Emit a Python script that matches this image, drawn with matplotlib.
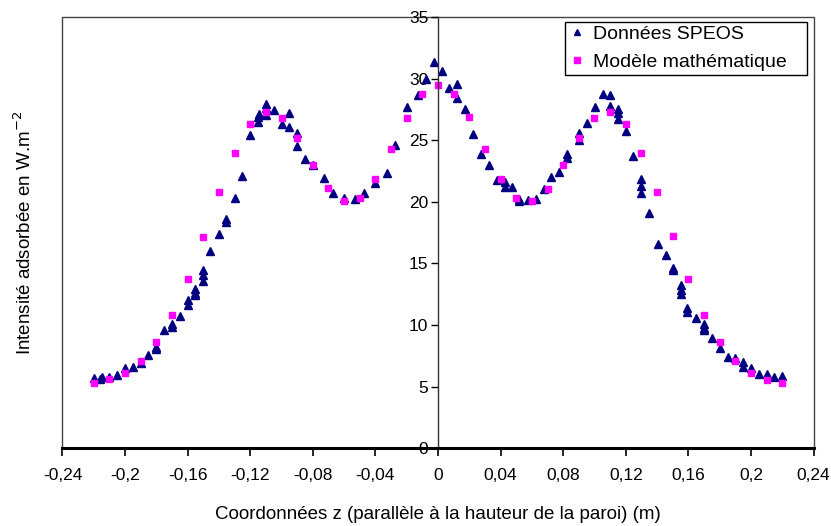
import matplotlib.pyplot as plt
from matplotlib.patches import Rectangle
from matplotlib.ticker import FuncFormatter, MultipleLocator

plt.rcParams['font.family'] = ['Liberation Sans', 'DejaVu Sans']

# Données SPEOS (triangles)
speos_z = [-0.22, -0.216, -0.215, -0.21, -0.205, -0.20, -0.195, -0.19, -0.1855,
           -0.18, -0.18, -0.175, -0.17, -0.17, -0.165, -0.16, -0.16, -0.155,
           -0.155, -0.155, -0.15, -0.15, -0.15, -0.1455, -0.14, -0.1355, -0.1355,
           -0.13, -0.125, -0.12, -0.115, -0.115, -0.1146, -0.11, -0.11, -0.11,
           -0.105, -0.10, -0.095, -0.095, -0.09, -0.09, -0.085, -0.08, -0.0728,
           -0.0673, -0.06, -0.053, -0.047, -0.04, -0.0328, -0.0273, -0.02, -0.013,
           -0.0077, -0.0026, 0.0024, 0.0072, 0.0123, 0.0123, 0.0173, 0.0222,
           0.0275, 0.0324, 0.0375, 0.0426, 0.0426, 0.0475, 0.052, 0.052, 0.0573,
           0.0626, 0.0675, 0.0724, 0.0775, 0.0826, 0.0826, 0.0899, 0.0899, 0.095,
           0.1001, 0.1052, 0.11, 0.11, 0.115, 0.115, 0.115, 0.12, 0.1248, 0.13,
           0.13, 0.13, 0.135, 0.1404, 0.1455, 0.15, 0.15, 0.155, 0.155, 0.155,
           0.1594, 0.1594, 0.165, 0.17, 0.17, 0.17, 0.175, 0.18, 0.1855, 0.19,
           0.195, 0.195, 0.20, 0.205, 0.21, 0.215, 0.22]
speos_i = [5.66, 5.58, 5.74, 5.74, 5.9, 6.47, 6.6, 6.88, 7.6,
           8.04, 8.23, 9.58, 9.85, 10.07, 10.72, 11.6, 12.0, 12.4,
           12.6, 12.9, 13.6, 14.05, 14.5, 16.0, 17.35, 18.4, 18.57,
           20.3, 22.1, 25.4, 26.5, 26.9, 27.1, 27.04, 27.58, 27.9,
           27.45, 26.3, 27.23, 26.04, 25.55, 24.55, 23.5, 22.98, 21.9,
           20.68, 20.33, 20.2, 20.73, 21.55, 22.36, 24.6, 27.67, 28.67,
           30.0, 31.37, 30.6, 29.2, 29.53, 28.4, 27.5, 25.5,
           23.88, 22.98, 21.8, 21.6, 21.17, 21.2, 20.06, 20.2, 20.14,
           20.22, 21.0, 21.98, 22.44, 23.58, 23.85, 25.0, 25.55, 26.42,
           27.72, 28.77, 28.67, 27.77, 27.5, 27.18, 26.7, 25.74, 23.7, 21.85,
           21.28, 20.73, 19.06, 16.57, 15.67, 14.64, 14.5, 13.24, 12.83, 12.48,
           11.4, 11.04, 10.6, 10.07, 9.77, 9.58, 8.96, 8.15, 7.36, 7.28,
           7.0, 6.6, 6.52, 6.0, 6.0, 5.74, 5.85]

# Modèle mathématique (carrés)
model_z = [-0.22, -0.21, -0.20, -0.19, -0.18, -0.17, -0.16, -0.15, -0.14, -0.13,
           -0.12, -0.11, -0.10, -0.09, -0.08, -0.07, -0.06, -0.05, -0.04, -0.03,
           -0.02, -0.01, 0.0, 0.01, 0.02, 0.03, 0.04, 0.05, 0.06, 0.07, 0.08,
           0.09, 0.10, 0.11, 0.12, 0.13, 0.14, 0.15, 0.16, 0.17, 0.18, 0.19,
           0.20, 0.21, 0.22]
model_i = [5.25, 5.58, 6.09, 7.07, 8.58, 10.8, 13.72, 17.16, 20.8, 24.0,
           26.3, 27.26, 26.77, 25.17, 22.98, 21.09, 20.08, 20.33, 21.85, 24.26,
           26.83, 28.77, 29.5, 28.77, 26.85, 24.28, 21.85, 20.33, 20.06, 21.06, 23.0,
           25.17, 26.77, 27.26, 26.34, 24.0, 20.79, 17.19, 13.72, 10.8, 8.58, 7.07,
           6.09, 5.55, 5.25]

fig = plt.figure(figsize=(8.31, 5.26), dpi=100)
ax = fig.add_axes([0.0752, 0.148, 0.9038, 0.8196])

ax.plot(speos_z, speos_i, linestyle='none', marker='^', color='#000080',
        markersize=6, label='Données SPEOS')
ax.plot(model_z, model_i, linestyle='none', marker='s', color='#FF00FF',
        markersize=5, label='Modèle mathématique')

ax.set_xlim(-0.24, 0.24)
ax.set_ylim(0, 35)

# axe vertical au milieu (x = 0)
for s in ['top', 'right']:
    ax.spines[s].set_visible(False)
ax.spines['left'].set_position(('data', 0))
ax.spines['left'].set_color('#333333')
ax.spines['left'].set_linewidth(1)
ax.spines['bottom'].set_linewidth(2.2)
ax.spines['bottom'].set_color('black')
ax.add_patch(Rectangle((0, 0), 1, 1, transform=ax.transAxes, fill=False,
                       edgecolor='#444444', linewidth=1, clip_on=False, zorder=0))

def fmt_x(v, pos):
    if abs(v) < 1e-9:
        return '0'
    return f"{round(v, 2):g}".replace('.', ',')

ax.xaxis.set_major_locator(MultipleLocator(0.04))
ax.yaxis.set_major_locator(MultipleLocator(5))
ax.xaxis.set_major_formatter(FuncFormatter(fmt_x))
ax.tick_params(axis='x', direction='out', length=6, width=1.2, labelsize=12.5, pad=8)
ax.tick_params(axis='y', direction='out', length=5, width=1, labelsize=12.5, pad=2)

ax.set_xlabel('Coordonnées z (parallèle à la hauteur de la paroi) (m)', fontsize=13.5, labelpad=17)
ax.set_ylabel('Intensité adsorbée en W.m$^{-2}$', fontsize=13.5)
ax.yaxis.set_label_coords(-0.036, 0.5)

# légende sans cadre + cadre dessiné à part (marge droite plus large, comme Excel)
leg = ax.legend(loc='upper left', bbox_to_anchor=(568 / 831, 1 - 25 / 526),
                bbox_transform=fig.transFigure, fontsize=14, frameon=False,
                handletextpad=0.4, borderpad=0, labelspacing=0.55,
                handlelength=0.9, markerscale=0.8, borderaxespad=0)
fig.add_artist(Rectangle((565 / 831, 1 - 75 / 526), 242 / 831, 53 / 526,
                         transform=fig.transFigure, fill=False,
                         edgecolor='black', linewidth=1))

plt.savefig('out.png', dpi=100)
